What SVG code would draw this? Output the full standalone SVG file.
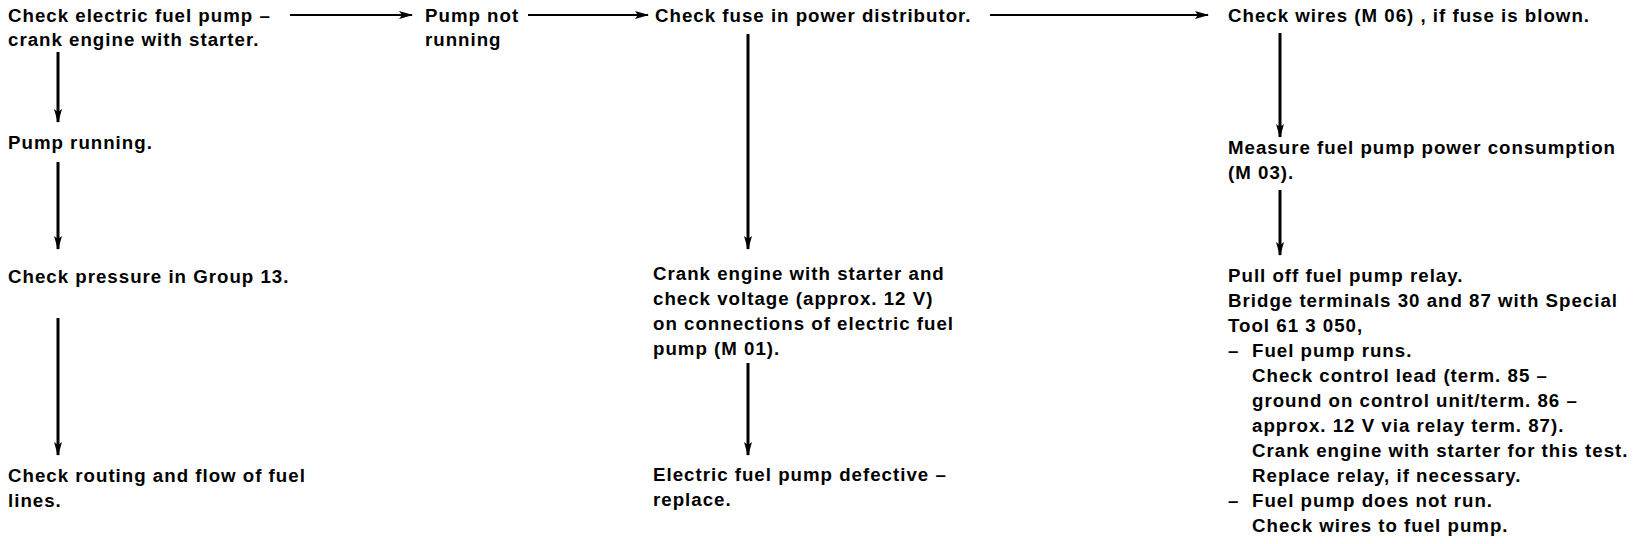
<svg xmlns="http://www.w3.org/2000/svg" width="1648" height="544" viewBox="0 0 1648 544">
<style>
text{font-family:"Liberation Sans",Arial,sans-serif;font-weight:bold;font-size:18.7px;letter-spacing:1px;fill:#000}
.h{stroke:#000;stroke-width:2;fill:none}
.v{stroke:#000;stroke-width:3;fill:none}
</style>
<defs>
<marker id="ah" viewBox="0 0 14 9" refX="13" refY="4.5" markerWidth="14" markerHeight="9" markerUnits="userSpaceOnUse" orient="auto">
<path d="M0,0.5 L14,4.5 L0,8.5 L3,4.5 Z" fill="#000"/>
</marker>
</defs>
<rect width="1648" height="544" fill="#fff"/>
<g id="connectors">
<line class="h" x1="290" y1="15" x2="412" y2="15" marker-end="url(#ah)"/>
<line class="h" x1="528" y1="15" x2="648" y2="15" marker-end="url(#ah)"/>
<line class="h" x1="990" y1="15" x2="1208" y2="15" marker-end="url(#ah)"/>
<line class="v" x1="58" y1="52" x2="58" y2="122" marker-end="url(#ah)"/>
<line class="v" x1="58" y1="162" x2="58" y2="249" marker-end="url(#ah)"/>
<line class="v" x1="58" y1="318" x2="58" y2="455" marker-end="url(#ah)"/>
<line class="v" x1="748" y1="34" x2="748" y2="249" marker-end="url(#ah)"/>
<line class="v" x1="748" y1="363" x2="748" y2="455" marker-end="url(#ah)"/>
<line class="v" x1="1280" y1="33" x2="1280" y2="137" marker-end="url(#ah)"/>
<line class="v" x1="1280" y1="190" x2="1280" y2="255" marker-end="url(#ah)"/>
</g>
<g id="n-check-pump"><text x="8" y="22">Check electric fuel pump –</text><text x="8" y="46">crank engine with starter.</text></g>
<g id="n-pump-not"><text x="425" y="22">Pump not</text><text x="425" y="46">running</text></g>
<g id="n-check-fuse"><text x="655" y="22">Check fuse in power distributor.</text></g>
<g id="n-check-wires"><text x="1228" y="22">Check wires (M 06) , if fuse is blown.</text></g>
<g id="n-pump-running"><text x="8" y="149">Pump running.</text></g>
<g id="n-pressure"><text x="8" y="283">Check pressure in Group 13.</text></g>
<g id="n-routing"><text x="8" y="482">Check routing and flow of fuel</text><text x="8" y="507">lines.</text></g>
<g id="n-crank-voltage"><text x="653" y="280">Crank engine with starter and</text><text x="653" y="305">check voltage (approx. 12 V)</text><text x="653" y="330">on connections of electric fuel</text><text x="653" y="355">pump (M 01).</text></g>
<g id="n-defective"><text x="653" y="481">Electric fuel pump defective –</text><text x="653" y="506">replace.</text></g>
<g id="n-measure"><text x="1228" y="154">Measure fuel pump power consumption</text><text x="1228" y="179">(M 03).</text></g>
<g id="n-relay">
<text x="1228" y="282">Pull off fuel pump relay.</text>
<text x="1228" y="307">Bridge terminals 30 and 87 with Special</text>
<text x="1228" y="332">Tool 61 3 050,</text>
<text y="357"><tspan x="1228">–</tspan><tspan x="1252">Fuel pump runs.</tspan></text>
<text x="1252" y="382">Check control lead  (term. 85 –</text>
<text x="1252" y="407">ground on control unit/term. 86 –</text>
<text x="1252" y="432">approx. 12 V via relay term. 87).</text>
<text x="1252" y="457">Crank engine with starter for this test.</text>
<text x="1252" y="482">Replace relay, if necessary.</text>
<text y="507"><tspan x="1228">–</tspan><tspan x="1252">Fuel pump does not run.</tspan></text>
<text x="1252" y="532">Check wires to fuel pump.</text>
</g>
</svg>
